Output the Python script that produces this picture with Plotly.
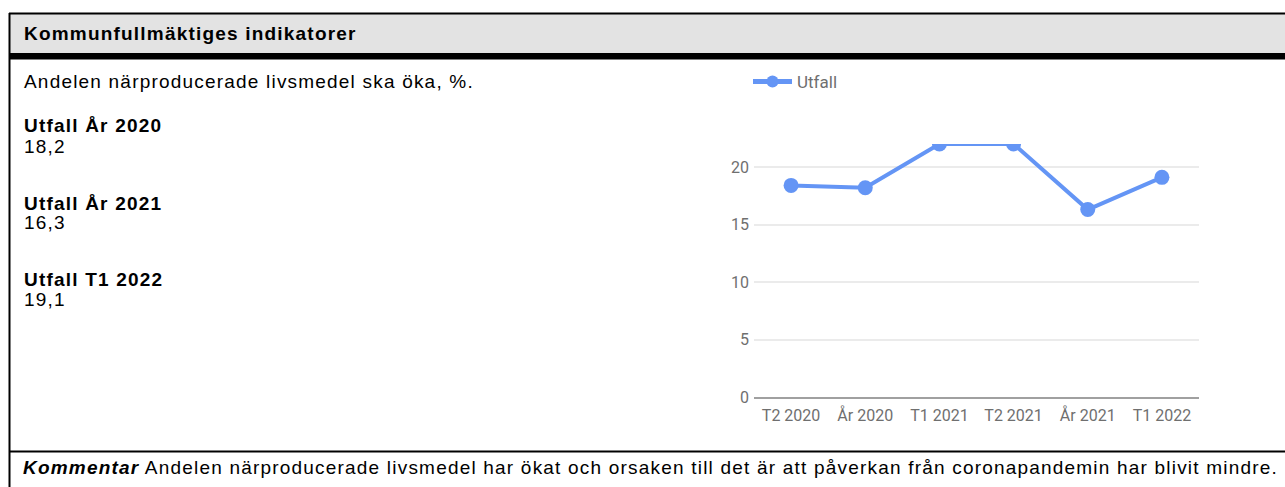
import plotly.graph_objects as go

W, H = 1285, 487

categories = ["T2 2020", "År 2020", "T1 2021", "T2 2021", "År 2021", "T1 2022"]
values = [18.4, 18.2, 22.0, 22.0, 16.3, 19.1]
series_name = "Utfall"
ytick_vals = [0, 5, 10, 15, 20]

header_text = "Kommunfullmäktiges indikatorer"
subtitle_text = "Andelen närproducerade livsmedel ska öka, %."
kpi_labels = ["Utfall År 2020", "Utfall År 2021", "Utfall T1 2022"]
kpi_values = ["18,2", "16,3", "19,1"]
comment_label = "Kommentar"
comment_text = "Andelen närproducerade livsmedel har ökat och orsaken till det är att påverkan från coronapandemin har blivit mindre."


def px(x):
    return x / W


def py(y):
    return 1 - y / H


LINE_COLOR = "#6495F5"
AXIS_TEXT = "#6f6f6f"
BODY_FONT = "Liberation Sans, Arial, sans-serif"
CHART_FONT = "Roboto, sans-serif"
LS = "letter-spacing:1.2px"
FS = 19

fig = go.Figure()
fig.add_trace(go.Scatter(
    x=categories, y=values, name=series_name, mode="lines+markers",
    line=dict(color=LINE_COLOR, width=4),
    marker=dict(color=LINE_COLOR, size=15),
    cliponaxis=True,
))

shapes = [
    dict(type="rect", xref="paper", yref="paper", x0=px(9), x1=1.0, y0=py(53), y1=py(13),
         fillcolor="#e3e3e3", line=dict(width=0), layer="below"),
    dict(type="line", xref="paper", yref="paper", x0=px(9), x1=1.0, y0=py(13.5), y1=py(13.5),
         line=dict(color="black", width=2)),
    dict(type="rect", xref="paper", yref="paper", x0=px(9), x1=1.0, y0=py(59.5), y1=py(53),
         fillcolor="black", line=dict(width=0)),
    dict(type="line", xref="paper", yref="paper", x0=px(9.5), x1=px(9.5), y0=py(13), y1=0,
         line=dict(color="black", width=2)),
    dict(type="line", xref="paper", yref="paper", x0=px(9), x1=1.0, y0=py(451.5), y1=py(451.5),
         line=dict(color="black", width=2)),
]

annotations = []


def add_text(text, x, y, size=FS, color="black"):
    annotations.append(dict(
        text=f"<span style='{LS}'>{text}</span>", xref="paper", yref="paper", x=px(x), y=py(y),
        xanchor="left", yanchor="middle", showarrow=False,
        font=dict(family=BODY_FONT, size=size, color=color), align="left",
    ))


add_text(f"<b>{header_text}</b>", 22, 33)
add_text(subtitle_text, 22, 82)
ys = [126, 203, 279]
for lab, val, y in zip(kpi_labels, kpi_values, ys):
    add_text(f"<b>{lab}</b>", 22, y)
    add_text(val, 22, y + 20)
add_text(f"<b><i>{comment_label}</i></b> {comment_text}", 21, 467)

fig.update_layout(
    template="none",
    width=W, height=H, autosize=False,
    margin=dict(l=0, r=0, t=0, b=0, pad=0, autoexpand=False),
    paper_bgcolor="white", plot_bgcolor="white",
    shapes=shapes, annotations=annotations,
    showlegend=True,
    legend=dict(orientation="h", x=px(748), y=py(82), xanchor="left", yanchor="middle",
                font=dict(family=CHART_FONT, size=17, color=AXIS_TEXT),
                bgcolor="rgba(0,0,0,0)", itemsizing="constant", itemwidth=39),
    xaxis=dict(domain=[px(754), px(1199)], range=[-0.5, 5.5], showgrid=False,
               showline=True, linecolor="#a0a0a0", linewidth=2, ticks="",
               tickfont=dict(family=CHART_FONT, size=16, color=AXIS_TEXT),
               ticklabelstandoff=3, fixedrange=True, automargin=False, zeroline=False),
    yaxis=dict(domain=[py(397), py(144)], range=[0, 22], tickvals=ytick_vals,
               showgrid=True, gridcolor="#ebebeb", gridwidth=1.5, zeroline=False,
               showline=False, ticks="",
               tickfont=dict(family=CHART_FONT, size=16, color=AXIS_TEXT),
               ticklabelstandoff=4, fixedrange=True, automargin=False),
)

fig.write_html(
    "out.html",
    config={"displayModeBar": False, "responsive": False},
    post_script="document.body.style.margin='0';document.body.style.overflow='hidden';",
)
